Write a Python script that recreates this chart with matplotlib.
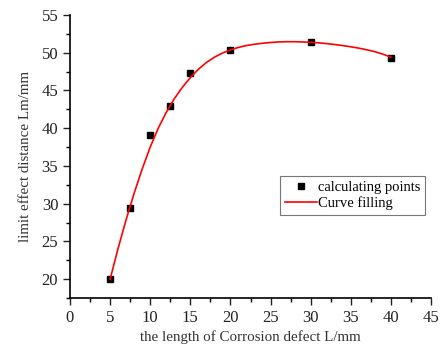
import matplotlib
matplotlib.use('Agg')
import matplotlib.pyplot as plt
from matplotlib.ticker import MultipleLocator

plt.rcParams['font.family'] = ['Liberation Serif', 'DejaVu Serif']

# calculated points
length = [5, 7.5, 10, 12.5, 15, 20, 30, 40]
distance = [20.0, 29.45, 39.05, 42.9, 47.35, 50.4, 51.35, 49.3]

# fitted curve
curve_x = [5, 6, 7, 8, 9, 10, 11, 12, 13, 14, 15, 16, 17, 18, 19, 20,
           21, 22, 23, 24, 25, 26, 27, 28, 29, 30, 31, 32, 33, 34, 35,
           36, 37, 38, 39, 40]
curve_y = [20.0, 24.1, 27.9, 31.4, 34.6, 37.5, 40.0, 42.1, 43.9, 45.4, 46.7,
           47.8, 48.7, 49.4, 49.95, 50.37, 50.7, 50.95, 51.12, 51.25, 51.35,
           51.42, 51.45, 51.45, 51.42, 51.37, 51.3, 51.2, 51.08, 50.94, 50.78,
           50.6, 50.38, 50.13, 49.8, 49.4]

fig = plt.figure(figsize=(4.43, 3.47), dpi=100)
ax = fig.add_axes([0.158, 0.141, 0.815, 0.816])

ax.plot(length, distance, 's', color='black', markersize=4.5, label='calculating points')
ax.plot(curve_x, curve_y, '-', color='red', linewidth=1.2, label='Curve filling')

ax.set_xlim(0, 45)
ax.set_ylim(17.5, 55)
ax.xaxis.set_major_locator(MultipleLocator(5))
ax.xaxis.set_minor_locator(MultipleLocator(2.5))
ax.yaxis.set_major_locator(MultipleLocator(5))
ax.yaxis.set_minor_locator(MultipleLocator(2.5))
ax.tick_params(which='major', direction='out', length=5, width=1, labelsize=12, colors='#222222')
ax.tick_params(which='minor', direction='out', length=3, width=1)
ax.spines['top'].set_visible(False)
ax.spines['right'].set_visible(False)
for s in ['left', 'bottom']:
    ax.spines[s].set_linewidth(1.2)

ax.set_xlabel('the length of Corrosion defect L/mm', fontsize=10.8, color='#333333', labelpad=3)
ax.set_ylabel('limit effect distance Lm/mm', fontsize=10.8, color='#333333', labelpad=7)

leg = ax.legend(loc='upper right', bbox_to_anchor=(0.983, 0.431), borderaxespad=0,
                fontsize=10.5, fancybox=False, edgecolor='#777777', framealpha=1,
                handlelength=2.2, handletextpad=0.1, borderpad=0.3, labelspacing=0.2)
leg.get_frame().set_linewidth(0.8)

fig.savefig('out.png', dpi=100)
